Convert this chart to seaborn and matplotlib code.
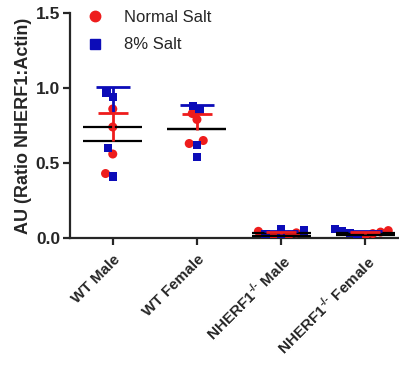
#plot.py
#NHERF1 expression by group and salt diet

#Importing Necessary Libraries
import pandas as pd
import matplotlib
matplotlib.use('Agg')
import matplotlib.pyplot as plt
import seaborn as sns
from matplotlib.markers import MarkerStyle
from matplotlib.lines import Line2D
from matplotlib.transforms import Affine2D

#Groups and salt diets
groups = ['WT Male', 'WT Female', 'NHERF1$^{\\text{-/-}}$ Male', 'NHERF1$^{\\text{-/-}}$ Female']
salts = ['Normal Salt', '8% Salt']

#Values (ratio NHERF1:Actin)
normal_salt = [[0.86, 0.74, 0.56, 0.43],
               [0.79, 0.83, 0.63, 0.65],
               [0.035, 0.015, 0.045, 0.02],
               [0.05, 0.03, 0.04, 0.015]]
high_salt = [[0.94, 0.97, 0.60, 0.41],
             [0.85, 0.88, 0.62, 0.54],
             [0.06, 0.01, 0.05, 0.025],
             [0.06, 0.045, 0.02, 0.035]]

#Summary lines
black_hi = [0.74, 0.727, 0.035, 0.035]
black_lo = [0.65, 0.727, 0.015, 0.02]
red_top = [0.835, 0.827, 0.040, 0.040]
red_bot = [0.65, 0.72, 0.025, 0.025]
blue_top = [1.007, 0.887, 0.048, 0.048]
blue_bot = [0.84, 0.827, 0.035, 0.035]

#Colours
red = '#ee1c1c'
blue = '#0c0cb8'

#Building a long table for seaborn
rows = []
for g, vals in zip(groups, normal_salt):
    for v in vals:
        rows.append({'group': g, 'salt': 'Normal Salt', 'value': v})
for g, vals in zip(groups, high_salt):
    for v in vals:
        rows.append({'group': g, 'salt': '8% Salt', 'value': v})
df = pd.DataFrame(rows)

sns.set_style('ticks')
plt.rcParams['font.family'] = ['Liberation Sans', 'DejaVu Sans']
plt.rcParams['mathtext.fontset'] = 'custom'
plt.rcParams['mathtext.bf'] = 'Liberation Sans:bold'
plt.rcParams['mathtext.rm'] = 'Liberation Sans:bold'

fig = plt.figure(figsize=(3.99, 3.68), dpi=100)
ax = fig.add_axes([0.175, 0.353, 0.825, 0.612])

#Scatter of individual animals (swarm packed a bit tighter than the marker size, like GraphPad)
swarm_size = 5.4
marker_size = 6.5
sns.swarmplot(data=df, x='group', y='value', hue='salt', order=groups, hue_order=salts,
              palette={'Normal Salt': red, '8% Salt': blue}, size=swarm_size, linewidth=0,
              legend=False, ax=ax)

#Circles for normal salt, squares for 8% salt, drawn larger than the swarm spacing
def marker_path(m, k):
    ms = MarkerStyle(m)
    return ms.get_path().transformed(ms.get_transform() + Affine2D().scale(k))
k = marker_size / swarm_size
circle = marker_path('o', k)
square = marker_path('s', k * 0.92)
for coll in ax.collections:
    fc = coll.get_facecolors()
    if len(fc) == 0:
        continue
    coll.set_paths([circle if c[0] > c[2] else square for c in fc])

#Mean and error lines
xs = list(range(len(groups)))
ax.hlines(black_hi, [x - 0.35 for x in xs], [x + 0.35 for x in xs], color='black', lw=1.6, zorder=4)
ax.hlines(black_lo, [x - 0.35 for x in xs], [x + 0.35 for x in xs], color='black', lw=1.6, zorder=4)
ax.hlines(blue_top, [x - 0.2 for x in xs], [x + 0.2 for x in xs], color=blue, lw=2, zorder=5)
ax.vlines(xs, blue_bot, blue_top, color=blue, lw=2, zorder=5)
ax.hlines(red_top, [x - 0.18 for x in xs], [x + 0.18 for x in xs], color=red, lw=2, zorder=5)
ax.vlines(xs, red_bot, red_top, color=red, lw=2, zorder=5)

#Axes styling
ax.set_xlim(-0.51, 3.4)
ax.set_ylim(0, 1.5)
ax.set_yticks([0.0, 0.5, 1.0, 1.5])
ax.set_yticklabels(['0.0', '0.5', '1.0', '1.5'], fontweight='bold', fontsize=12.5)
ax.set_xticks(xs)
ax.set_xticklabels(groups, rotation=45, ha='right', rotation_mode='anchor',
                   fontweight='bold', fontsize=11)
ax.set_xlabel('')
ax.set_ylabel('AU (Ratio NHERF1:Actin)', fontweight='bold', fontsize=13, labelpad=3)
for s in ['top', 'right']:
    ax.spines[s].set_visible(False)
for s in ['left', 'bottom']:
    ax.spines[s].set_linewidth(1.6)
ax.tick_params(width=1.6, length=5, direction='out', pad=2)
ax.tick_params(axis='x', pad=5)

#Legend
handles = [Line2D([], [], marker='o', color=red, linestyle='', markersize=7.5),
           Line2D([], [], marker='s', color=blue, linestyle='', markersize=7)]
ax.legend(handles, salts, loc='upper left', bbox_to_anchor=(-0.02, 1.08), frameon=False,
          fontsize=12, handletextpad=0.75, labelspacing=0.75)

plt.savefig('out.png', dpi=100)
